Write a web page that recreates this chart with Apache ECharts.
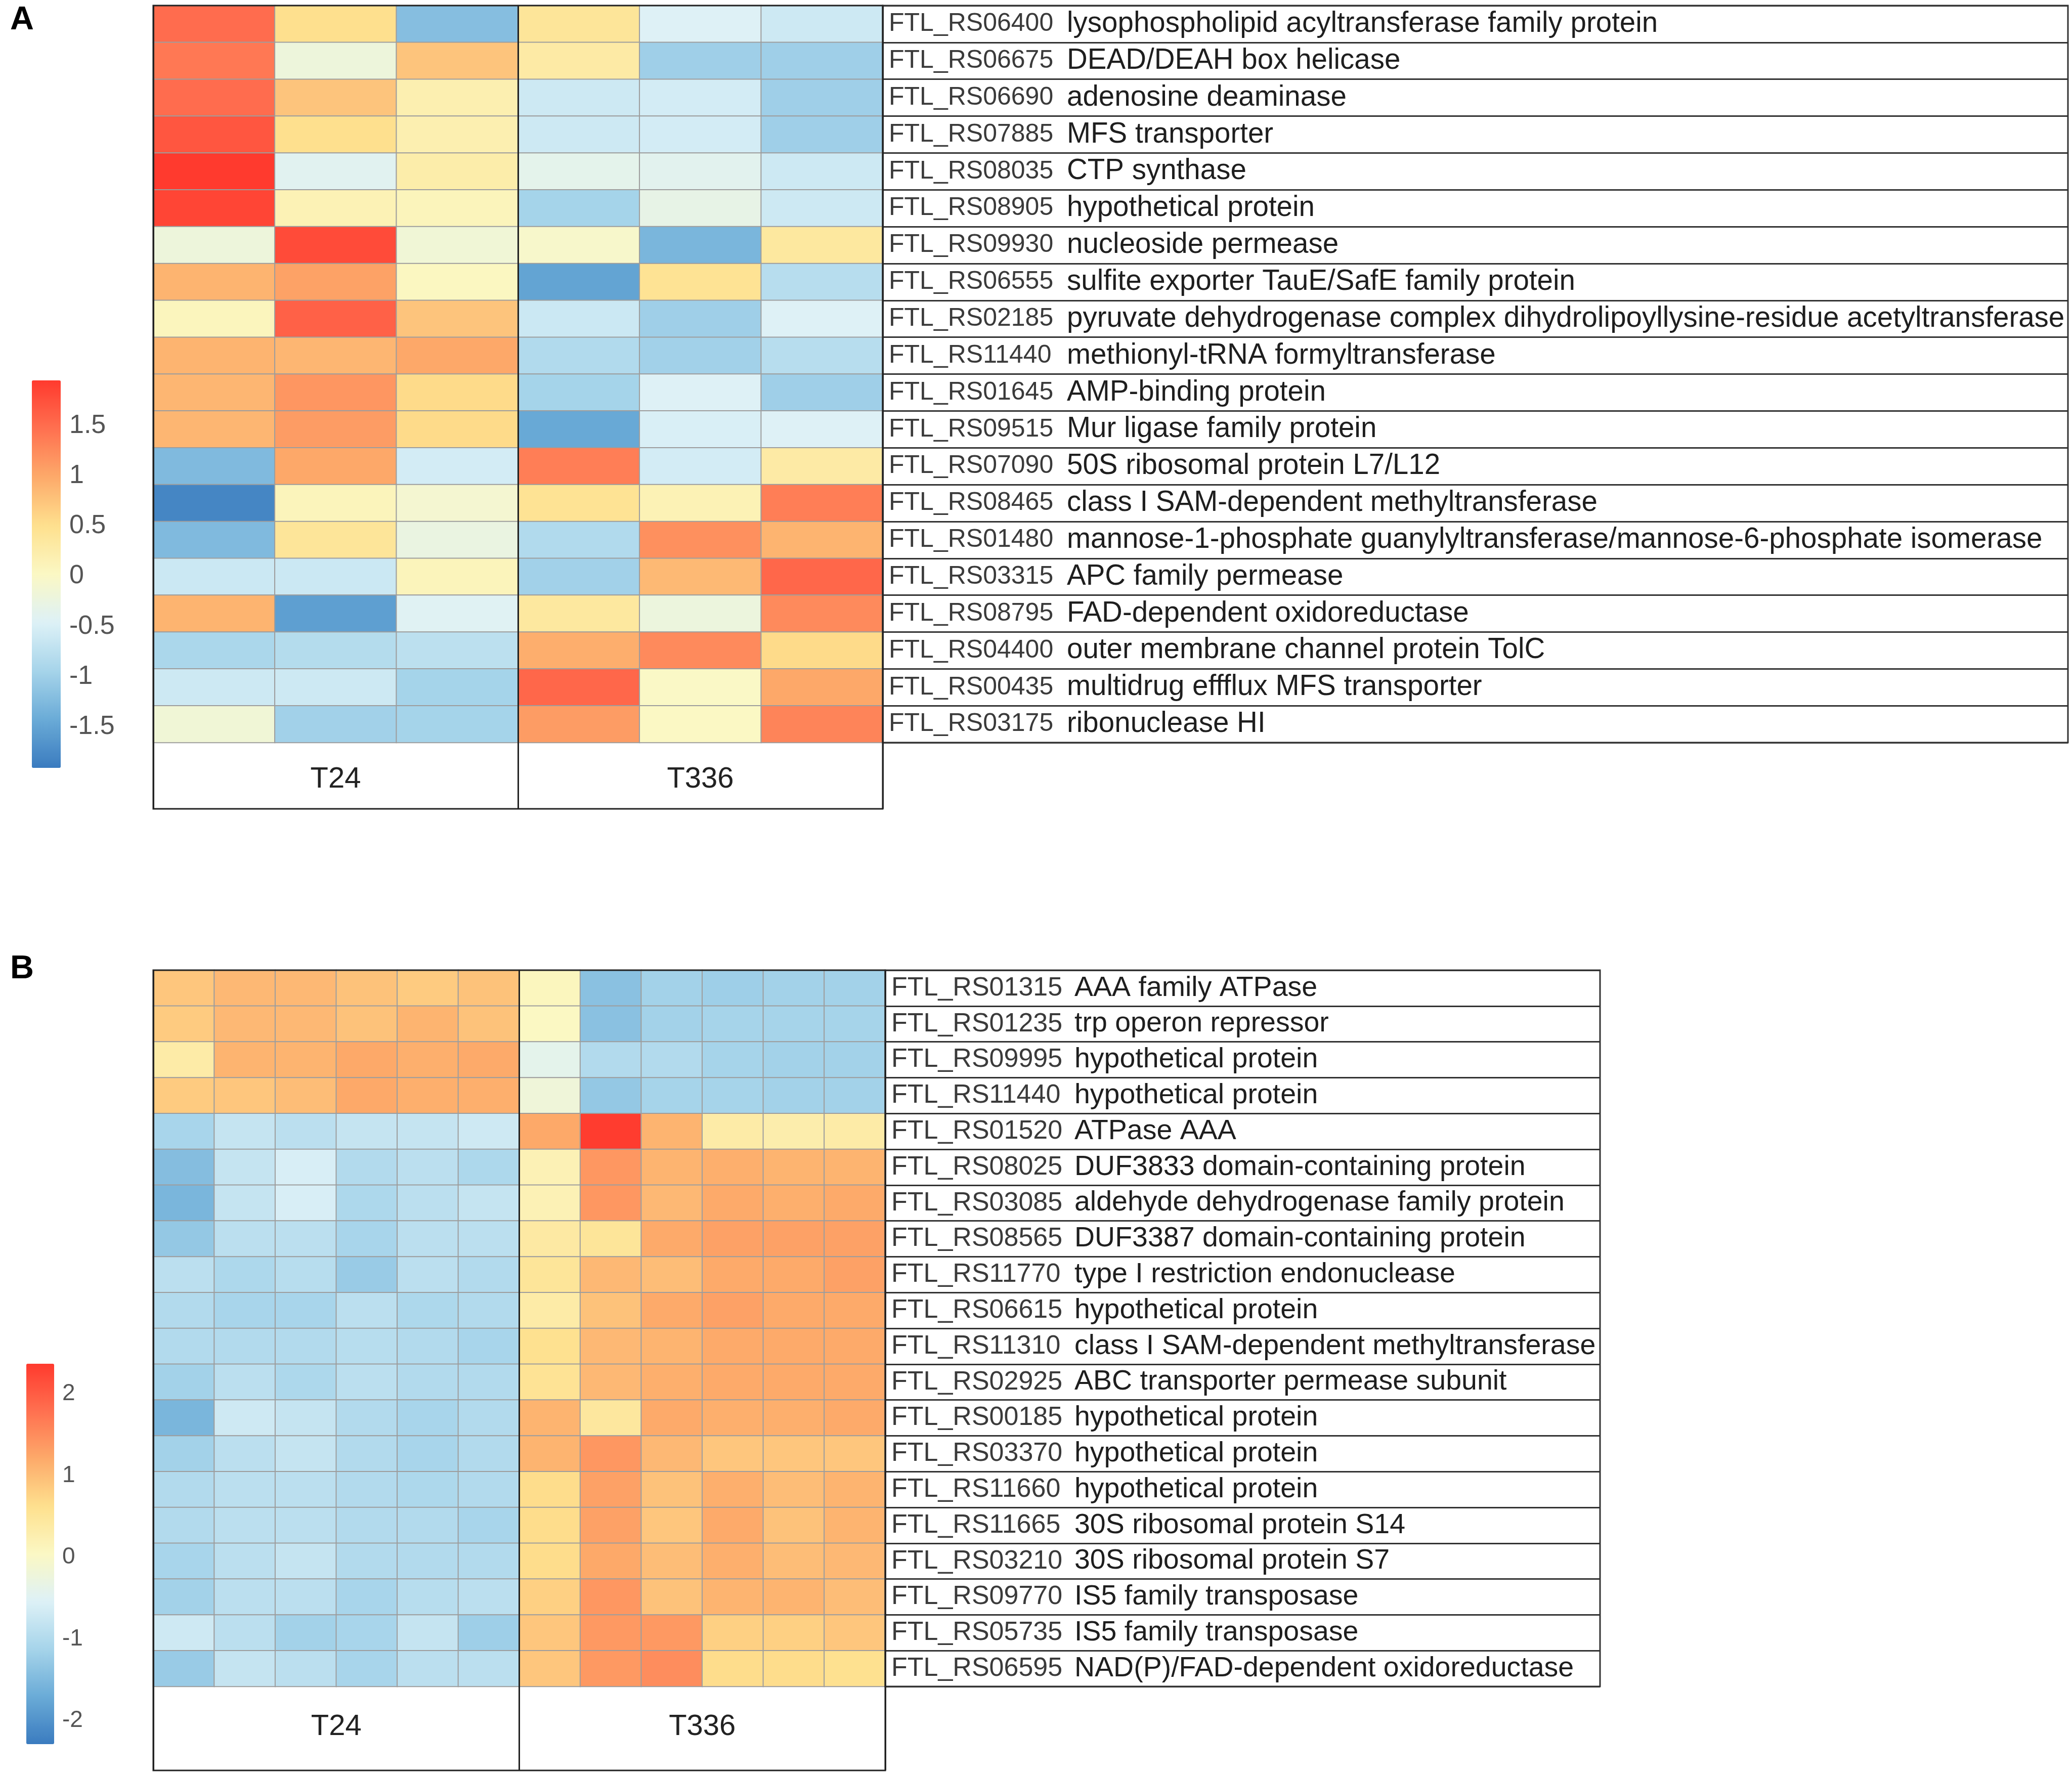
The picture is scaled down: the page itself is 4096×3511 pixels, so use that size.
<!DOCTYPE html>
<html>
<head>
<meta charset="utf-8">
<style>html,body{margin:0;padding:0;background:#fff;}#chart{width:4096px;height:3511px;}</style>
<script src="https://cdn.jsdelivr.net/npm/echarts@6/dist/echarts.min.js"></script>
</head>
<body>
<div id="chart"></div>
<script>
// ---------------- DATA ----------------
const groups = ['T24', 'T336'];
const colsA = ['T24_1', 'T24_2', 'T24_3', 'T336_1', 'T336_2', 'T336_3'];
const colsB = ['T24_1', 'T24_2', 'T24_3', 'T24_4', 'T24_5', 'T24_6', 'T336_1', 'T336_2', 'T336_3', 'T336_4', 'T336_5', 'T336_6'];

const idsA = ['FTL_RS06400', 'FTL_RS06675', 'FTL_RS06690', 'FTL_RS07885', 'FTL_RS08035', 'FTL_RS08905', 'FTL_RS09930', 'FTL_RS06555', 'FTL_RS02185', 'FTL_RS11440', 'FTL_RS01645', 'FTL_RS09515', 'FTL_RS07090', 'FTL_RS08465', 'FTL_RS01480', 'FTL_RS03315', 'FTL_RS08795', 'FTL_RS04400', 'FTL_RS00435', 'FTL_RS03175'];
const descA = ['lysophospholipid acyltransferase family protein', 'DEAD/DEAH box helicase', 'adenosine deaminase', 'MFS transporter', 'CTP synthase', 'hypothetical protein', 'nucleoside permease', 'sulfite exporter TauE/SafE family protein', 'pyruvate dehydrogenase complex dihydrolipoyllysine-residue acetyltransferase', 'methionyl-tRNA formyltransferase', 'AMP-binding protein', 'Mur ligase family protein', '50S ribosomal protein L7/L12', 'class I SAM-dependent methyltransferase', 'mannose-1-phosphate guanylyltransferase/mannose-6-phosphate isomerase', 'APC family permease', 'FAD-dependent oxidoreductase', 'outer membrane channel protein TolC', 'multidrug effflux MFS transporter', 'ribonuclease HI'];
const valuesA = [
  [1.5, 0.5, -1.2, 0.4, -0.45, -0.6],
  [1.4, -0.2, 0.75, 0.3, -1.0, -1.0],
  [1.5, 0.75, 0.2, -0.6, -0.55, -1.0],
  [1.7, 0.5, 0.2, -0.6, -0.55, -1.0],
  [1.95, -0.4, 0.25, -0.35, -0.38, -0.6],
  [1.85, 0.15, 0.1, -0.95, -0.3, -0.6],
  [-0.2, 1.8, -0.15, -0.05, -1.3, 0.35],
  [0.9, 1.05, 0.05, -1.5, 0.45, -0.8],
  [0.08, 1.6, 0.75, -0.62, -1.0, -0.45],
  [0.9, 0.88, 1.0, -0.85, -0.98, -0.8],
  [0.88, 1.15, 0.55, -0.95, -0.45, -1.0],
  [0.88, 1.1, 0.55, -1.45, -0.5, -0.45],
  [-1.25, 1.0, -0.55, 1.35, -0.55, 0.3],
  [-1.8, 0.1, -0.1, 0.45, 0.15, 1.35],
  [-1.25, 0.4, -0.25, -0.85, 1.2, 0.9],
  [-0.62, -0.62, 0.1, -0.98, 0.85, 1.55],
  [0.9, -1.55, -0.42, 0.35, -0.22, 1.25],
  [-0.9, -0.82, -0.75, 0.95, 1.25, 0.55],
  [-0.6, -0.6, -0.95, 1.55, 0.0, 1.0],
  [-0.15, -0.98, -0.95, 1.1, 0.02, 1.3]
];

const idsB = ['FTL_RS01315', 'FTL_RS01235', 'FTL_RS09995', 'FTL_RS11440', 'FTL_RS01520', 'FTL_RS08025', 'FTL_RS03085', 'FTL_RS08565', 'FTL_RS11770', 'FTL_RS06615', 'FTL_RS11310', 'FTL_RS02925', 'FTL_RS00185', 'FTL_RS03370', 'FTL_RS11660', 'FTL_RS11665', 'FTL_RS03210', 'FTL_RS09770', 'FTL_RS05735', 'FTL_RS06595'];
const descB = ['AAA family ATPase', 'trp operon repressor', 'hypothetical protein', 'hypothetical protein', 'ATPase AAA', 'DUF3833 domain-containing protein', 'aldehyde dehydrogenase family protein', 'DUF3387 domain-containing protein', 'type I restriction endonuclease', 'hypothetical protein', 'class I SAM-dependent methyltransferase', 'ABC transporter permease subunit', 'hypothetical protein', 'hypothetical protein', 'hypothetical protein', '30S ribosomal protein S14', '30S ribosomal protein S7', 'IS5 family transposase', 'IS5 family transposase', 'NAD(P)/FAD-dependent oxidoreductase'];
const valuesB = [
  [0.9, 1.05, 1.05, 0.95, 0.85, 0.95, 0.1, -1.4, -1.15, -1.2, -1.15, -1.15],
  [0.85, 1.05, 1.05, 0.95, 1.1, 0.95, 0.05, -1.4, -1.15, -1.12, -1.12, -1.12],
  [0.35, 1.1, 1.1, 1.22, 1.15, 1.2, -0.4, -1.0, -1.0, -1.12, -1.15, -1.15],
  [0.85, 0.9, 1.0, 1.22, 1.15, 1.15, -0.2, -1.3, -1.12, -1.12, -1.15, -1.15],
  [-1.1, -0.8, -0.9, -0.8, -0.8, -0.7, 1.22, 2.35, 1.1, 0.35, 0.3, 0.35],
  [-1.45, -0.8, -0.6, -1.0, -0.9, -1.05, 0.2, 1.4, 1.1, 1.15, 1.1, 1.1],
  [-1.55, -0.8, -0.6, -1.05, -0.9, -0.8, 0.2, 1.4, 1.05, 1.2, 1.15, 1.2],
  [-1.3, -0.9, -0.9, -1.1, -0.9, -0.9, 0.4, 0.5, 1.2, 1.3, 1.3, 1.3],
  [-0.9, -1.05, -0.95, -1.25, -0.9, -1.0, 0.5, 1.05, 1.0, 1.2, 1.2, 1.3],
  [-1.0, -1.1, -1.1, -0.9, -1.05, -1.0, 0.35, 0.95, 1.2, 1.3, 1.2, 1.2],
  [-1.0, -1.0, -1.0, -0.95, -1.0, -1.1, 0.6, 1.05, 1.1, 1.2, 1.2, 1.2],
  [-1.15, -0.9, -1.05, -0.9, -1.0, -1.0, 0.55, 1.05, 1.15, 1.2, 1.2, 1.2],
  [-1.55, -0.7, -0.8, -1.0, -1.1, -1.0, 1.1, 0.45, 1.2, 1.15, 1.15, 1.2],
  [-1.15, -0.9, -0.8, -1.0, -1.1, -1.0, 1.1, 1.4, 1.05, 0.9, 0.9, 0.9],
  [-1.0, -0.9, -0.9, -1.0, -1.05, -1.0, 0.65, 1.3, 0.95, 1.15, 1.0, 1.1],
  [-1.0, -0.9, -0.9, -1.0, -1.0, -1.1, 0.65, 1.3, 0.9, 1.2, 0.95, 1.1],
  [-1.1, -0.9, -0.8, -1.0, -1.0, -1.0, 0.65, 1.22, 1.0, 1.15, 1.0, 1.05],
  [-1.15, -0.9, -0.9, -1.1, -0.95, -0.9, 0.8, 1.4, 0.95, 1.1, 1.1, 1.0],
  [-0.7, -0.9, -1.15, -1.1, -0.8, -1.2, 0.9, 1.38, 1.38, 0.8, 0.8, 0.9],
  [-1.25, -0.8, -0.9, -1.1, -0.9, -0.9, 0.9, 1.38, 1.5, 0.65, 0.65, 0.6]
];

const rangeA = [-1.91, 1.95];
const ticksA = [-1.5, -1, -0.5, 0, 0.5, 1, 1.5];
const rangeB = [-2.29, 2.37];
const ticksB = [-2, -1, 0, 1, 2];
const palette = ['#3a7bbf', '#6aabd7', '#a6d4ea', '#ddf1f7', '#fbf8c4', '#fee08e', '#fdaa6a', '#ff7050', '#ff3a2e'];

// ---------------- BUILD ----------------
function toCells(values) {
  const out = [];
  values.forEach((row, r) => row.forEach((v, c) => out.push([c, r, v])));
  return out;
}
const FONT = '"Liberation Sans", Arial, sans-serif';

function panel(p) {
  const g = p.gridBase;
  const grids = [
    { left: p.box.left, top: p.box.top, width: p.box.width, height: p.box.cellH, containLabel: false },
    { left: p.box.left, top: p.box.top, width: p.box.width, height: p.box.fullH, show: true, borderColor: '#222', borderWidth: 3, backgroundColor: 'transparent', z: 10 },
    { left: p.table.left, top: p.box.top, width: p.table.width, height: p.box.cellH, show: true, borderColor: '#333', borderWidth: 3, backgroundColor: 'transparent', z: 10 },
    { left: p.cbar.left + p.cbar.w, top: p.cbar.top, width: 10, height: p.cbar.h }
  ];
  const xAxes = [
    { type: 'category', gridIndex: g, data: p.cols, show: false },
    { type: 'category', gridIndex: g + 1, data: groups, position: 'bottom', z: 10,
      axisLine: { show: false }, axisTick: { show: false },
      splitLine: { show: true, interval: 0, lineStyle: { color: '#222', width: 3 } },
      axisLabel: { inside: true, margin: p.headMargin, verticalAlign: 'middle', fontSize: 58, color: '#222', fontFamily: FONT } },
    { type: 'value', gridIndex: g + 2, min: 0, max: 1, show: false },
    { type: 'value', gridIndex: g + 3, min: 0, max: 1, show: false }
  ];
  const yAxes = [
    { type: 'category', gridIndex: g, data: p.ids, inverse: true, show: false },
    { type: 'category', gridIndex: g + 1, data: ['box'], show: false },
    { type: 'category', gridIndex: g + 2, data: p.ids, inverse: true, position: 'left',
      axisLine: { show: false }, axisTick: { show: false },
      splitLine: { show: true, interval: 0, lineStyle: { color: '#333', width: 3 } },
      axisLabel: {
        inside: true, margin: 12, align: 'left', verticalAlign: 'middle', interval: 0,
        formatter: (v, i) => '{id|' + v + '}{d|' + p.desc[i] + '}',
        rich: {
          id: { fontSize: p.idSize, color: '#3a3a3a', fontFamily: FONT, width: p.idWidth },
          d: { fontSize: p.descSize, color: '#1e1e1e', fontFamily: FONT }
        }
      } },
    { type: 'value', gridIndex: g + 3, min: p.range[0], max: p.range[1], position: 'left',
      axisLine: { show: false }, axisTick: { show: false }, splitLine: { show: false },
      axisLabel: { inside: true, margin: p.tickMargin, customValues: p.ticks, formatter: v => String(v),
        fontSize: p.tickSize, color: '#555', fontFamily: FONT, verticalAlign: 'middle' } }
  ];
  return { grids, xAxes, yAxes };
}

const pA = panel({
  gridBase: 0,
  box: { left: 303, top: 11, width: 1442, cellH: 1457, fullH: 1588 },
  table: { left: 1745, width: 2343 },
  cbar: { left: 63, top: 752, w: 57, h: 766 },
  ids: idsA, desc: descA, cols: colsA, range: rangeA, ticks: ticksA,
  headMargin: 58, idSize: 50, idWidth: 352, descSize: 56.5, tickSize: 52, tickMargin: 17
});
const pB = panel({
  gridBase: 4,
  box: { left: 303, top: 1918, width: 1447, cellH: 1416, fullH: 1582 },
  table: { left: 1750, width: 1413 },
  cbar: { left: 52, top: 2696, w: 55, h: 752 },
  ids: idsB, desc: descB, cols: colsB, range: rangeB, ticks: ticksB,
  headMargin: 86, idSize: 52, idWidth: 362, descSize: 55.5, tickSize: 46, tickMargin: 16
});

const option = {
  animation: false,
  backgroundColor: '#fff',
  title: [
    { text: 'A', left: 20, top: 8, padding: 0, textStyle: { fontSize: 65, fontWeight: 'bold', color: '#000', fontFamily: FONT } },
    { text: 'B', left: 20, top: 1884, padding: 0, textStyle: { fontSize: 65, fontWeight: 'bold', color: '#000', fontFamily: FONT } }
  ],
  grid: pA.grids.concat(pB.grids),
  xAxis: pA.xAxes.concat(pB.xAxes),
  yAxis: pA.yAxes.concat(pB.yAxes),
  visualMap: [
    { type: 'continuous', seriesIndex: 0, min: rangeA[0], max: rangeA[1], calculable: false, orient: 'vertical',
      left: 63, top: 752, itemWidth: 57, itemHeight: 766, padding: 0, inRange: { color: palette } },
    { type: 'continuous', seriesIndex: 1, min: rangeB[0], max: rangeB[1], calculable: false, orient: 'vertical',
      left: 52, top: 2696, itemWidth: 55, itemHeight: 752, padding: 0, inRange: { color: palette } }
  ],
  series: [
    { type: 'heatmap', xAxisIndex: 0, yAxisIndex: 0, data: toCells(valuesA),
      itemStyle: { borderColor: '#9d9d9d', borderWidth: 2 } },
    { type: 'heatmap', xAxisIndex: 4, yAxisIndex: 4, data: toCells(valuesB),
      itemStyle: { borderColor: '#9d9d9d', borderWidth: 2 } }
  ]
};

const chart = echarts.init(document.getElementById('chart'), null, { renderer: 'canvas' });
chart.setOption(option);
</script>
</body>
</html>
